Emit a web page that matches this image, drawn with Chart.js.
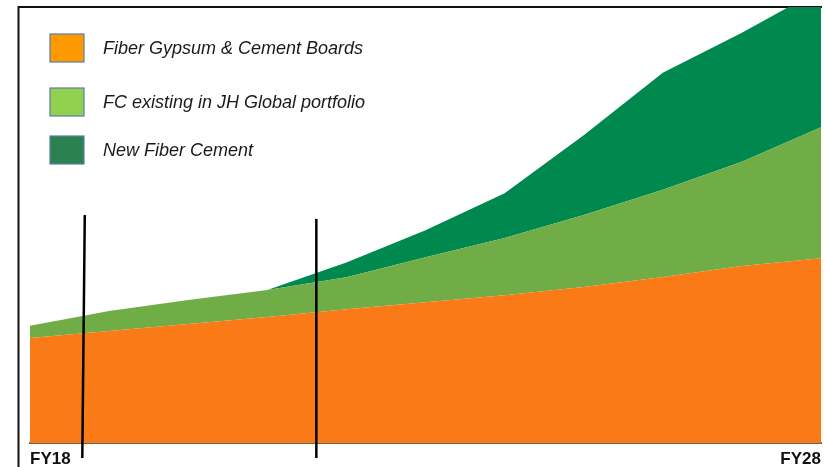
<!DOCTYPE html>
<html>
<head>
<meta charset="utf-8">
<script src="https://cdn.jsdelivr.net/npm/chart.js@4/dist/chart.umd.min.js"></script>
<style>
  html, body { margin: 0; padding: 0; background: #fff; }
  #wrap { width: 825px; height: 467px; }
</style>
</head>
<body>
<div id="wrap"><canvas id="chart"></canvas></div>
<script>
const years = [18, 19, 20, 21, 22, 23, 24, 25, 26, 27, 28];
const seriesNames = ['Fiber Gypsum & Cement Boards', 'FC existing in JH Global portfolio', 'New Fiber Cement'];
const gypsumBoards = [24.1, 25.7, 27.3, 28.9, 30.7, 32.3, 33.9, 35.8, 38.1, 40.6, 42.4];
const fcExisting = [2.8, 4.6, 5.5, 6.2, 7.3, 10.3, 13.1, 16.5, 20.0, 23.9, 30.0];
const newFiberCement = [0, 0, 0, 0, 3.4, 6.2, 10.3, 18.3, 26.8, 29.6, 31.7];
const tickYears = [18, 28];
const markerYears = [18.68, 21.62];

const areaColors = ['#f97a16', '#70ad47', '#00894f'];
const legendColors = ['#ff9900', '#92d050', '#2b8250'];

const toPoints = vals => vals.map((v, i) => ({ x: years[i], y: v }));

// slide frame: left and top rules
const framePlugin = {
  id: 'frame',
  beforeDraw(chart) {
    const { ctx, chartArea } = chart;
    ctx.save();
    ctx.strokeStyle = '#111';
    ctx.lineWidth = 2;
    ctx.beginPath();
    ctx.moveTo(18.5, chart.height);
    ctx.lineTo(18.5, chartArea.top);
    ctx.lineTo(chartArea.right + 1, chartArea.top);
    ctx.stroke();
    ctx.restore();
  }
};

// black vertical markers dropping below the axis
const markerPlugin = {
  id: 'markers',
  afterDraw(chart) {
    const { ctx, scales, chartArea } = chart;
    ctx.save();
    ctx.strokeStyle = '#000';
    ctx.lineWidth = 2.5;
    const tops = [52.3, 51.4];
    markerYears.forEach((yr, i) => {
      const x = scales.x.getPixelForValue(yr);
      ctx.beginPath();
      ctx.moveTo(x + (i === 0 ? 1 : 0), scales.y.getPixelForValue(tops[i]));
      ctx.lineTo(x - (i === 0 ? 1.5 : 0), chartArea.bottom + 15);
      ctx.stroke();
    });
    ctx.restore();
  }
};

// legend boxes sitting inside the plot
const legendPlugin = {
  id: 'boxLegend',
  afterDraw(chart) {
    const { ctx } = chart;
    const rows = [48, 102, 150];
    ctx.save();
    ctx.font = 'italic 18px "Liberation Sans", Arial, sans-serif';
    ctx.textBaseline = 'middle';
    seriesNames.forEach((name, i) => {
      ctx.fillStyle = legendColors[i];
      ctx.fillRect(50, rows[i] - 14, 34, 28);
      ctx.strokeStyle = '#5a7fa6';
      ctx.lineWidth = 1.2;
      ctx.strokeRect(50, rows[i] - 14, 34, 28);
      ctx.fillStyle = '#1a1a1a';
      ctx.fillText(name, 103, rows[i] + 1);
    });
    ctx.restore();
  }
};

new Chart(document.getElementById('chart'), {
  type: 'line',
  data: {
    datasets: [gypsumBoards, fcExisting, newFiberCement].map((vals, i) => ({
      label: seriesNames[i],
      data: toPoints(vals),
      backgroundColor: areaColors[i],
      borderColor: areaColors[i],
      borderWidth: 0,
      pointRadius: 0,
      tension: 0,
      fill: i === 0 ? 'origin' : '-1'
    }))
  },
  options: {
    responsive: true,
    maintainAspectRatio: false,
    animation: false,
    layout: { padding: { left: 30, right: 4, top: 7, bottom: 0 } },
    plugins: {
      legend: { display: false },
      tooltip: { enabled: false }
    },
    scales: {
      x: {
        type: 'linear',
        min: 18,
        max: 28,
        z: 1,
        afterBuildTicks: axis => { axis.ticks = tickYears.map(v => ({ value: v })); },
        afterFit: axis => {
          axis.height = 24;
          axis.paddingLeft = 0;
          axis.paddingRight = 0;
        },
        grid: { display: false, drawTicks: false },
        border: { display: true, color: '#6f625a', width: 2 },
        ticks: {
          align: 'inner',
          maxRotation: 0,
          padding: 6,
          color: '#111',
          font: { family: '"Liberation Sans", Arial, sans-serif', size: 17, weight: 'bold' },
          callback: v => 'FY' + v
        }
      },
      y: {
        display: false,
        stacked: true,
        min: 0,
        max: 100
      }
    }
  },
  plugins: [framePlugin, markerPlugin, legendPlugin]
});
</script>
</body>
</html>
